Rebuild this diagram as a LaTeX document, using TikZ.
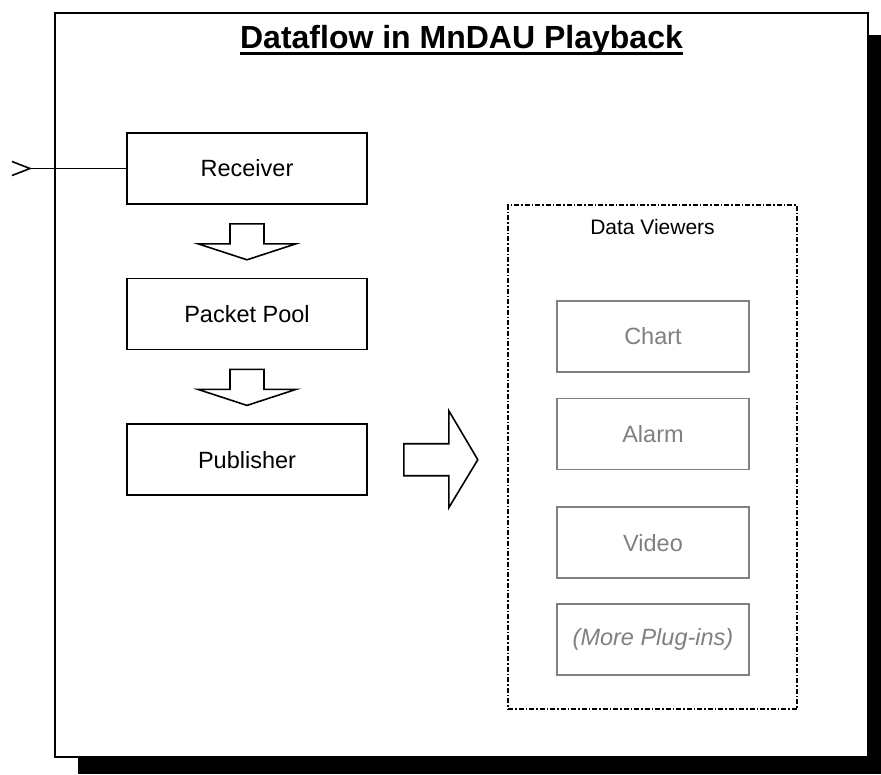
\documentclass[tikz,border=0pt]{standalone}
\usepackage{fontspec}
\setmainfont{Liberation Sans}
\usetikzlibrary{positioning}
\definecolor{plugingray}{RGB}{128,128,128}
\tikzset{
	stage/.style={draw,line width=1.6pt,minimum width=240pt,minimum height=71pt,font=\fontsize{23.5}{28}\selectfont},
	viewer/.style={draw=plugingray,text=plugingray,line width=1.6pt,minimum width=192pt,minimum height=71pt,font=\fontsize{23.5}{28}\selectfont},
	blockarrow/.style={draw,line width=1.6pt,fill=white,line join=miter},
}
\begin{document}
\begin{tikzpicture}[x=1pt,y=-1pt]
	\useasboundingbox (0,0) rectangle (881,774);
	% frame with shadow
	\fill[black] (78,35) rectangle (881,774);
	\draw[line width=2pt,fill=white] (55,13) rectangle (868,757);
	\node[anchor=base,inner sep=0pt,font=\bfseries\fontsize{32}{38}\selectfont] (title) at (461.5,48) {Dataflow in MnDAU Playback};
	\draw[line width=2.4pt] ([yshift=-5.5pt]title.base west) -- ([yshift=-5.5pt]title.base east);
	% playback chain
	\node[stage] (rec) at (247,168.5) {Receiver};
	\node[stage,below=73pt of rec] (pool) {Packet Pool};
	\node[stage,below=73pt of pool] (pub) {Publisher};
	\coordinate (src) at (30,168.5);
	\draw[line width=1.6pt] (src) -- (rec.west);
	\draw[line width=1.6pt] ([shift={(-18,-7)}]src) -- (src) -- ([shift={(-18,7)}]src);
	\foreach \a/\b in {rec/pool,pool/pub}
		\draw[blockarrow] ([xshift=-17pt,yshift=-19pt]\a.south) -- ++(0,20) -- ++(-32,0) -- ++(49,16) -- ++(49,-16) -- ++(-32,0) -- ++(0,-20) -- cycle;
	% viewers
	\node[draw,line width=1.6pt,dash pattern=on 5pt off 2pt on 1.5pt off 2pt,minimum width=289pt,minimum height=504pt] (dv) at (652.5,457) {};
	\node[font=\fontsize{21}{25}\selectfont] (dvlabel) at ([yshift=-23pt]dv.north) {Data Viewers};
	\node[viewer] (chart) at (653,336.5) {Chart};
	\node[viewer,below=25pt of chart] (alarm) {Alarm};
	\node[viewer,below=36pt of alarm] (video) {Video};
	\node[viewer,below=24pt of video,font=\itshape\fontsize{23.5}{28}\selectfont] (more) {(More Plug-ins)};
	\draw[blockarrow] ([xshift=36pt,yshift=16pt]pub.east) -- ++(45,0) -- ++(0,-33) -- ++(29,49) -- ++(-29,48) -- ++(0,-32) -- ++(-45,0) -- cycle;
\end{tikzpicture}
\end{document}
